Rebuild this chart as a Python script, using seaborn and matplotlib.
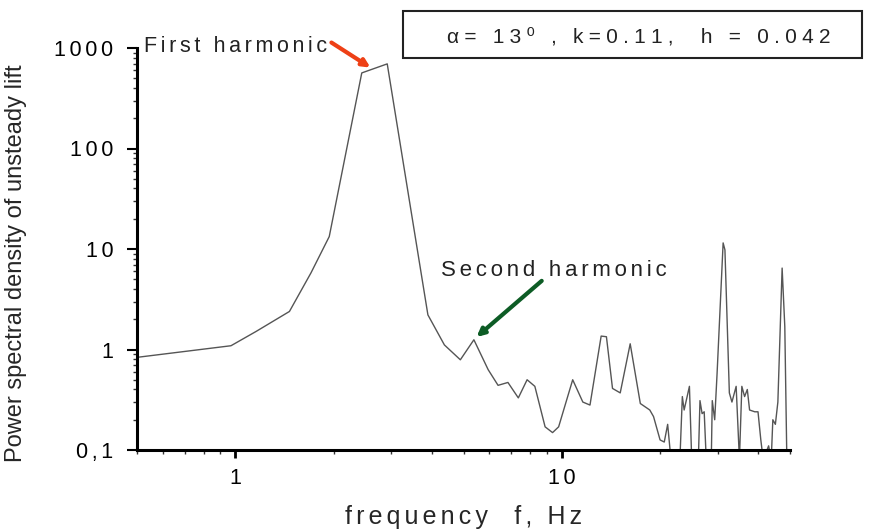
import matplotlib
matplotlib.use("Agg")
import matplotlib.pyplot as plt
import numpy as np
import pandas as pd
import seaborn as sns
from matplotlib.ticker import FixedLocator, FixedFormatter, LogLocator, NullFormatter
from matplotlib.patches import Rectangle

# ---------------- data ----------------
freq = [0.507, 0.97, 1.157, 1.465, 1.706, 1.94, 2.44, 2.92, 3.89, 4.37,
        4.89, 5.38, 5.95, 6.38, 6.84, 7.36, 7.83, 8.27, 8.89, 9.37,
        9.78, 10.8, 11.6, 12.2, 13.2, 13.7, 14.3, 15.1, 16.2, 17.4,
        18.6, 19.1, 20.0, 20.6, 21.1, 21.6, 23.0, 23.4, 23.7, 24.6,
        25.0, 26.2, 26.5, 26.9, 27.3, 27.7, 28.7, 28.9, 29.4, 29.9,
        31.2, 31.6, 32.6, 33.2, 34.2, 35.0, 35.6, 36.3, 37.0, 37.6,
        39.0, 39.9, 40.7, 41.4, 43.0, 43.8, 44.3, 45.1, 45.9, 47.3,
        48.2, 48.9]
psd = [0.84, 1.09, 1.51, 2.39, 5.8, 13.3, 565, 695, 2.21, 1.11,
       0.79, 1.25, 0.63, 0.44, 0.47, 0.33, 0.50, 0.43, 0.17, 0.149,
       0.17, 0.50, 0.30, 0.28, 1.36, 1.34, 0.41, 0.37, 1.14, 0.29,
       0.25, 0.215, 0.126, 0.12, 0.18, 0.08, 0.08, 0.34, 0.25, 0.43,
       0.08, 0.08, 0.31, 0.23, 0.24, 0.08, 0.08, 0.31, 0.20, 0.58,
       11.5, 9.8, 0.37, 0.30, 0.43, 0.08, 0.43, 0.34, 0.40, 0.25,
       0.24, 0.24, 0.126, 0.08, 0.11, 0.08, 0.20, 0.18, 0.30, 6.46,
       1.69, 0.08]

ytick_values = [0.1, 1, 10, 100, 1000]
ytick_labels = ["0,1", "1", "10", "100", "1000"]
xtick_values = [1, 10]
xtick_labels = ["1", "10"]

first_label = "First harmonic"
first_text_pos = (0.526, 921)
first_arrow_tail = (1.97, 1133)
first_arrow_head = (2.595, 638)

second_label = "Second harmonic"
second_text_pos = (4.28, 5.41)
second_arrow_tail = (8.68, 4.82)
second_arrow_head = (5.48, 1.33)

param_label = "α= 13⁰ , k=0.11,  h = 0.042"
x_label = "frequency  f, Hz"
y_label = "Power spectral density of unsteady lift"

# ---------------- style ----------------
sns.set_style("ticks")
plt.rcParams["font.family"] = ["Liberation Sans", "DejaVu Sans"]


def track(s, sp="\u2006"):
    return sp.join(s)


W, H = 869, 529
fig = plt.figure(figsize=(W / 100, H / 100), dpi=100)
ax = fig.add_axes([137 / W, 79 / H, 653 / W, 402 / H])

df = pd.DataFrame({"f": freq, "psd": psd})
sns.lineplot(data=df, x="f", y="psd", ax=ax, color="#555555", lw=1.0,
             estimator=None, sort=False)

ax.set_xscale("log")
ax.set_yscale("log")
ax.set_xlim(0.5, 50)
ax.set_ylim(0.1, 1000)

for s in ("top", "right"):
    ax.spines[s].set_visible(False)
for s in ("left", "bottom"):
    ax.spines[s].set_linewidth(2.2)
    ax.spines[s].set_color("black")

ax.yaxis.set_major_locator(FixedLocator(ytick_values))
ax.yaxis.set_major_formatter(FixedFormatter([track(t) for t in ytick_labels]))
ax.yaxis.set_minor_locator(LogLocator(base=10, subs=np.arange(2, 10)))
ax.yaxis.set_minor_formatter(NullFormatter())
ax.xaxis.set_major_locator(FixedLocator(xtick_values))
ax.xaxis.set_major_formatter(FixedFormatter([track(t) for t in xtick_labels]))
ax.xaxis.set_minor_locator(LogLocator(base=10, subs=np.arange(2, 10)))
ax.xaxis.set_minor_formatter(NullFormatter())

ax.tick_params(axis="y", which="major", direction="out", length=7, width=1.5,
               pad=10, labelsize=15.5, colors="black")
ax.tick_params(axis="x", which="major", direction="out", length=6, width=2,
               pad=7, labelsize=15.5, colors="black")
ax.tick_params(which="minor", direction="out", length=3, width=1, colors="#333333")

ax.set_xlabel(track(x_label), fontsize=18)
ax.xaxis.set_label_coords(0.5, -0.137)
ax.xaxis.label.set_va("top")
ax.set_ylabel(y_label, fontsize=17)
ax.yaxis.label.set_va("center")
ax.yaxis.set_label_coords(-0.185, 0.464)

# annotations
ax.text(*first_text_pos, track(first_label), fontsize=15.5, ha="left",
        va="baseline", color="#222222", clip_on=False)
ax.annotate("", xy=first_arrow_head, xytext=first_arrow_tail,
            annotation_clip=False,
            arrowprops=dict(arrowstyle="-|>,head_length=0.45,head_width=0.22",
                            color="#ee4016", lw=3, shrinkA=0, shrinkB=0))
ax.text(*second_text_pos, track(second_label), fontsize=16, ha="left",
        va="baseline", color="#222222", clip_on=False)
ax.annotate("", xy=second_arrow_head, xytext=second_arrow_tail,
            annotation_clip=False,
            arrowprops=dict(arrowstyle="-|>,head_length=0.45,head_width=0.22",
                            color="#0d5c25", lw=3, shrinkA=0, shrinkB=0))

# parameter box
fig.patches.append(Rectangle((403 / W, (H - 58) / H), 459 / W, 47 / H,
                             transform=fig.transFigure, fill=False,
                             edgecolor="#222222", lw=1.5))
fig.text(639 / W, (H - 37) / H, track(param_label, "\u2005"), fontsize=15,
         ha="center", va="center", color="#222222")

fig.savefig("out.png", dpi=100, facecolor="white")
